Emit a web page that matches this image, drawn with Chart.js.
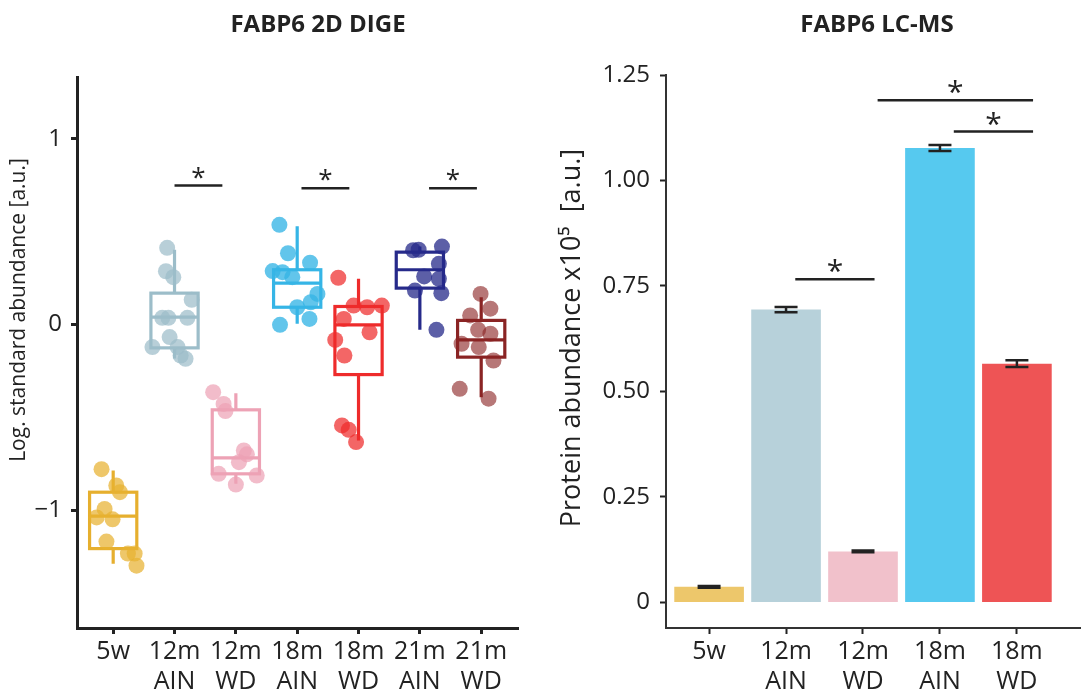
<!DOCTYPE html>
<html>
<head>
<meta charset="utf-8">
<script src="https://cdn.jsdelivr.net/npm/chart.js@4.4.1/dist/chart.umd.min.js"></script>
<style>
  html, body { margin: 0; padding: 0; background: #fff; }
  #wrap { position: relative; width: 1082px; height: 697px; }
  #dige { position: absolute; left: 0; top: 0; }
  #lcms { position: absolute; left: 540px; top: 0; }
</style>
</head>
<body>
<div id="wrap">
  <canvas id="dige" width="540" height="697"></canvas>
  <canvas id="lcms" width="542" height="697"></canvas>
</div>
<script>
// ---- 2D DIGE (log standard abundance) ----
const digeGroups = ['5w', '12m AIN', '12m WD', '18m AIN', '18m WD', '21m AIN', '21m WD'];
const digeTicks = [-1, 0, 1];

// box statistics per group
const whiskerLow  = [-1.29, -0.183, -0.859, 0.004, -0.625, -0.029, -0.392];
const quart1      = [-1.208, -0.126, -0.805, 0.093, -0.27, 0.196, -0.176];
const medians     = [-1.033, 0.04, -0.719, 0.223, -0.002, 0.295, -0.083];
const quart3      = [-0.904, 0.169, -0.46, 0.295, 0.097, 0.39, 0.022];
const whiskerHigh = [-0.787, 0.403, -0.37, 0.53, 0.246, 0.42, 0.147];

// individual samples: values and horizontal jitter (in group units)
const spotValues = [
  [-0.78, -0.868, -0.904, -0.994, -1.04, -1.05, -1.17, -1.235, -1.235, -1.3],
  [0.413, 0.287, 0.255, 0.133, 0.036, 0.036, 0.036, -0.068, -0.122, -0.122, -0.167, -0.185],
  [-0.365, -0.428, -0.467, -0.679, -0.70, -0.742, -0.805, -0.814, -0.863],
  [0.537, 0.384, 0.333, 0.288, 0.282, 0.255, 0.165, 0.12, 0.093, 0.03, -0.002],
  [0.252, 0.102, 0.093, 0.102, 0.03, -0.042, -0.083, -0.167, -0.544, -0.568, -0.634],
  [0.42, 0.403, 0.40, 0.327, 0.259, 0.246, 0.183, 0.169, -0.029],
  [0.165, 0.085, 0.049, -0.029, -0.05, -0.104, -0.122, -0.194, -0.347, -0.4]
];
const spotJitter = [
  [-0.19, 0.05, 0.11, -0.14, -0.27, -0.01, -0.11, 0.24, 0.35, 0.38],
  [-0.12, -0.14, -0.02, 0.28, -0.2, -0.1, 0.21, -0.08, -0.36, 0.05, 0.1, 0.18],
  [-0.37, -0.2, -0.17, 0.13, 0.18, 0.05, -0.28, 0.34, 0.0],
  [-0.29, -0.15, 0.21, -0.4, -0.24, -0.08, 0.33, 0.22, 0.0, 0.2, -0.28],
  [-0.33, -0.08, 0.14, 0.38, -0.24, 0.18, -0.38, -0.23, -0.27, -0.16, -0.04],
  [0.36, -0.02, -0.11, 0.31, 0.07, 0.31, -0.08, 0.35, 0.27],
  [-0.01, 0.15, -0.18, -0.05, 0.15, -0.32, -0.04, 0.2, -0.35, 0.12]
];

// significance brackets: [from, to] in group units and height
const digeSigSpans = [[2.0, 2.78], [4.07, 4.85], [6.15, 6.93]];
const digeSigHeights = [0.749, 0.735, 0.735];

// ---- LC-MS (protein abundance x10^5) ----
const lcmsGroups = ['5w', '12m AIN', '12m WD', '18m AIN', '18m WD'];
const lcmsMeans = [0.037, 0.694, 0.121, 1.077, 0.566];
const lcmsErrors = [0.002, 0.006, 0.002, 0.007, 0.008];
const lcmsTicks = [0, 0.25, 0.5, 0.75, 1.0, 1.25];
const lcmsSigSpans = [[2.12, 3.15], [3.19, 5.21], [4.18, 5.21]];
const lcmsSigHeights = [0.766, 1.19, 1.116];

const boxColors  = ['#E6AF2E', '#9CBDC9', '#EDA2B5', '#36B5E6', '#EE2B2B', '#262A8A', '#8A2424'];
const spotColors = ['rgba(232,178,48,0.72)', 'rgba(156,189,201,0.72)', 'rgba(237,162,181,0.72)',
                    'rgba(54,181,230,0.78)', 'rgba(238,43,43,0.72)', 'rgba(38,42,138,0.75)', 'rgba(138,36,36,0.62)'];
const barColors  = ['#EDC76B', '#B7D1DA', '#F1C1CB', '#56C9EF', '#EE5455'];

const FONT = '"Open Sans", "DejaVu Sans", sans-serif';
const INK = '#222';
Chart.defaults.font.family = FONT;
Chart.defaults.color = INK;

const tickLines = label => label.split(' ');

// box + whiskers under the jittered points
const boxPlugin = {
  id: 'boxes',
  beforeDatasetsDraw(chart) {
    const { ctx, scales: { x, y } } = chart;
    const half = 0.385;
    ctx.save();
    ctx.lineWidth = 3.2;
    digeGroups.forEach((g, i) => {
      const c = x.getPixelForValue(i + 1);
      const l = x.getPixelForValue(i + 1 - half);
      const r = x.getPixelForValue(i + 1 + half);
      const top = y.getPixelForValue(quart3[i]);
      const bot = y.getPixelForValue(quart1[i]);
      const med = y.getPixelForValue(medians[i]);
      ctx.strokeStyle = boxColors[i];
      ctx.beginPath();
      ctx.moveTo(c, y.getPixelForValue(whiskerHigh[i])); ctx.lineTo(c, top);
      ctx.moveTo(c, bot); ctx.lineTo(c, y.getPixelForValue(whiskerLow[i]));
      ctx.stroke();
      ctx.strokeRect(l, top, r - l, bot - top);
      ctx.beginPath();
      ctx.moveTo(l, med); ctx.lineTo(r, med);
      ctx.stroke();
    });
    ctx.restore();
  }
};

// error bars on top of the LC-MS bars
const errorPlugin = {
  id: 'errors',
  afterDatasetsDraw(chart) {
    const { ctx, scales: { x, y } } = chart;
    ctx.save();
    ctx.strokeStyle = INK;
    ctx.lineWidth = 2.5;
    lcmsMeans.forEach((m, i) => {
      const c = x.getPixelForValue(i + 1);
      const w = 11.5;
      const hi = y.getPixelForValue(m + lcmsErrors[i]);
      const lo = y.getPixelForValue(m - lcmsErrors[i]);
      ctx.beginPath();
      ctx.moveTo(c, hi); ctx.lineTo(c, lo);
      ctx.moveTo(c - w, hi); ctx.lineTo(c + w, hi);
      ctx.moveTo(c - w, lo); ctx.lineTo(c + w, lo);
      ctx.stroke();
    });
    ctx.restore();
  }
};

function sigPlugin(spans, heights, starSize) {
  return {
    id: 'sig',
    afterDatasetsDraw(chart) {
      const { ctx, scales: { x, y } } = chart;
      ctx.save();
      ctx.strokeStyle = INK;
      ctx.fillStyle = INK;
      ctx.lineWidth = 2.5;
      ctx.font = starSize + 'px ' + FONT;
      ctx.textAlign = 'center';
      ctx.textBaseline = 'alphabetic';
      spans.forEach((s, i) => {
        const a = x.getPixelForValue(s[0]);
        const b = x.getPixelForValue(s[1]);
        const h = y.getPixelForValue(heights[i]);
        ctx.beginPath();
        ctx.moveTo(a, h); ctx.lineTo(b, h);
        ctx.stroke();
        // asterisk sits ~half an em above the baseline
        ctx.fillText('*', (a + b) / 2, h - 13 + starSize * 0.5);
      });
      ctx.restore();
    }
  };
}

// panel title and rotated y axis label
function labelPlugin(title, titleX, yLabel, yLabelSize, yLabelX, yLabelY) {
  return {
    id: 'labels',
    afterDraw(chart) {
      const ctx = chart.ctx;
      ctx.save();
      ctx.fillStyle = INK;
      ctx.textAlign = 'center';
      ctx.textBaseline = 'middle';
      ctx.font = 'bold 24px ' + FONT;
      ctx.fillText(title, titleX, 25);
      ctx.translate(yLabelX, yLabelY);
      ctx.rotate(-Math.PI / 2);
      ctx.font = yLabelSize + 'px ' + FONT;
      ctx.fillText(yLabel, 0, 0);
      ctx.restore();
    }
  };
}

function axisGrid(width) {
  return {
    display: true,
    offset: false,
    drawOnChartArea: false,
    drawTicks: true,
    tickLength: 6,
    tickWidth: width,
    tickColor: INK
  };
}

new Chart(document.getElementById('dige'), {
  type: 'scatter',
  data: {
    datasets: digeGroups.map((g, i) => ({
      label: g,
      data: spotValues[i].map((v, k) => ({ x: i + 1 + spotJitter[i][k], y: v })),
      backgroundColor: spotColors[i],
      borderWidth: 0,
      pointRadius: 8,
      pointHoverRadius: 8
    }))
  },
  options: {
    responsive: false,
    animation: false,
    events: [],
    layout: { padding: { top: 77, right: 22, left: 0, bottom: 0 } },
    plugins: { legend: { display: false }, tooltip: { enabled: false } },
    scales: {
      x: {
        type: 'linear',
        min: 0.41,
        max: 7.6,
        afterFit: s => { s.height = 69; },
        afterBuildTicks: s => { s.ticks = digeGroups.map((g, i) => ({ value: i + 1 })); },
        ticks: {
          font: { size: 25, lineHeight: 1.2 },
          color: INK,
          padding: 3,
          maxRotation: 0,
          callback: v => tickLines(digeGroups[v - 1])
        },
        grid: axisGrid(3),
        border: { display: true, color: INK, width: 3 }
      },
      y: {
        min: -1.636,
        max: 1.334,
        afterFit: s => { s.width = 77; },
        afterBuildTicks: s => { s.ticks = digeTicks.map(v => ({ value: v })); },
        ticks: {
          font: { size: 24 },
          color: INK,
          padding: 9,
          callback: v => (v < 0 ? '\u2212' + Math.abs(v) : String(v))
        },
        grid: axisGrid(3),
        border: { display: true, color: INK, width: 3 }
      }
    }
  },
  plugins: [boxPlugin, sigPlugin(digeSigSpans, digeSigHeights, 26),
            labelPlugin('FABP6 2D DIGE', 318, 'Log. standard abundance [a.u.]', 21, 19, 310)]
});

new Chart(document.getElementById('lcms'), {
  type: 'bar',
  data: {
    datasets: [{
      label: 'LC-MS',
      data: lcmsMeans.map((m, i) => ({ x: i + 1, y: m })),
      backgroundColor: barColors,
      borderWidth: 0,
      barPercentage: 0.905,
      categoryPercentage: 1.0
    }]
  },
  options: {
    responsive: false,
    animation: false,
    events: [],
    layout: { padding: { top: 75, right: 2, left: 0, bottom: 0 } },
    plugins: { legend: { display: false }, tooltip: { enabled: false } },
    scales: {
      x: {
        type: 'linear',
        min: 0.44,
        max: 5.82,
        offset: false,
        afterFit: s => { s.height = 69; },
        afterBuildTicks: s => { s.ticks = lcmsGroups.map((g, i) => ({ value: i + 1 })); },
        ticks: {
          font: { size: 25, lineHeight: 1.2 },
          color: INK,
          padding: 3,
          maxRotation: 0,
          callback: v => tickLines(lcmsGroups[v - 1])
        },
        grid: axisGrid(2),
        border: { display: true, color: '#333', width: 2 }
      },
      y: {
        min: -0.0605,
        max: 1.25,
        afterFit: s => { s.width = 126; },
        afterBuildTicks: s => { s.ticks = lcmsTicks.map(v => ({ value: v })); },
        ticks: {
          font: { size: 24 },
          color: INK,
          padding: 10,
          callback: v => (v === 0 ? '0' : v.toFixed(2))
        },
        grid: axisGrid(2),
        border: { display: true, color: '#333', width: 2 }
      }
    }
  },
  plugins: [errorPlugin, sigPlugin(lcmsSigSpans, lcmsSigHeights, 30),
            labelPlugin('FABP6 LC-MS', 337, 'Protein abundance x10\u2075  [a.u.]', 27, 32, 338)]
});
</script>
</body>
</html>
